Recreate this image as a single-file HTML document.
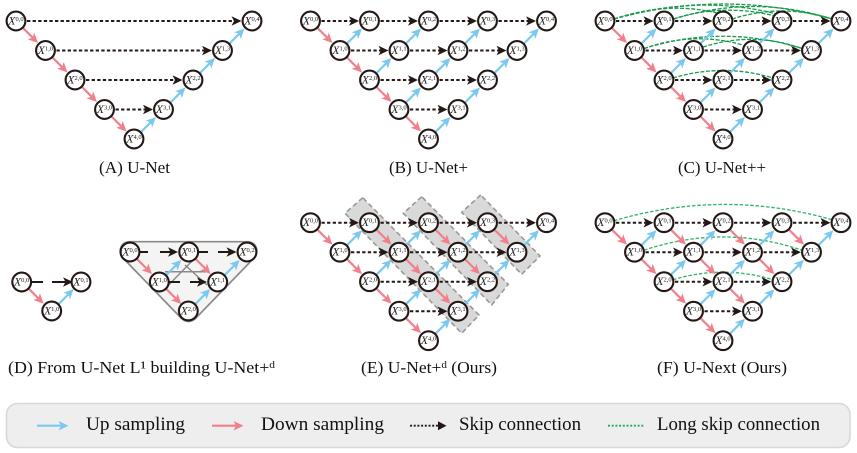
<!DOCTYPE html>
<html><head><meta charset="utf-8">
<style>
html,body{margin:0;padding:0;background:#fff}
svg{display:block;filter:blur(0.25px)}
.n circle{fill:#fff;stroke:#231815;stroke-width:2.1;r:9.4px}
.n text{font-family:"Liberation Serif",serif;font-size:11.5px;fill:#222;text-anchor:middle;font-style:italic}
.n tspan{font-size:6.5px;font-style:normal}
.cap{font-family:"Liberation Serif",serif;font-size:16.5px;fill:#111}
.leg{font-family:"Liberation Serif",serif;font-size:18.5px;fill:#111}
.dn{stroke:#f0808c;stroke-width:2.2;fill:none}
.up{stroke:#7cc9f0;stroke-width:2.2;fill:none}
.sk{stroke:#231815;stroke-width:2;fill:none;stroke-dasharray:3.3 2.3}
.gr{stroke:#1a9a4b;stroke-width:1.3;fill:none;stroke-dasharray:4 1.6}
.gl{stroke:#2fb563;stroke-width:1.3;fill:none;stroke-dasharray:3.5 1.8}
.bd{fill:#d9d9d9;stroke:#999;stroke-width:1.6;stroke-dasharray:5 3}
</style></head><body>
<svg width="857" height="453" viewBox="0 0 857 453" xmlns="http://www.w3.org/2000/svg">
<defs>
<marker id="mp" markerUnits="userSpaceOnUse" markerWidth="12" markerHeight="12" refX="7.5" refY="4.75" orient="auto"><path d="M10,4.75L0,0L2.5,4.75L0,9.5Z" fill="#f0808c"/></marker>
<marker id="mb" markerUnits="userSpaceOnUse" markerWidth="12" markerHeight="12" refX="7.5" refY="4.75" orient="auto"><path d="M10,4.75L0,0L2.5,4.75L0,9.5Z" fill="#7cc9f0"/></marker>
<marker id="mk" markerUnits="userSpaceOnUse" markerWidth="12" markerHeight="12" refX="7.5" refY="4.75" orient="auto"><path d="M10,4.75L0,0L2.5,4.75L0,9.5Z" fill="#231815"/></marker>
<path id="D" class="dn" d="M7,7L20.2,20.2" marker-end="url(#mp)"/>
<path id="U" class="up" d="M7,-7L20.2,-20.2" marker-end="url(#mb)"/>
<path id="S" class="sk" d="M11,0H46" marker-end="url(#mk)"/>
</defs>

<!-- Panel A -->
<g transform="translate(16,21)">
<path class="sk" d="M11,0H223" marker-end="url(#mk)"/>
<path class="sk" d="M40.5,29.5H193.5" marker-end="url(#mk)"/>
<path class="sk" d="M70,59H164" marker-end="url(#mk)"/>
<path class="sk" d="M99.5,88.5H134.5" marker-end="url(#mk)"/>
<use href="#D" x="0" y="0"/><use href="#D" x="29.5" y="29.5"/><use href="#D" x="59" y="59"/><use href="#D" x="88.5" y="88.5"/>
<use href="#U" x="118" y="118"/><use href="#U" x="147.5" y="88.5"/><use href="#U" x="177" y="59"/><use href="#U" x="206.5" y="29.5"/>
<g class="n" transform="translate(0,0)"><circle r="9.4"/><text y="3.5">X<tspan dy="-3.5">0,0</tspan></text></g>
<g class="n" transform="translate(29.5,29.5)"><circle r="9.4"/><text y="3.5">X<tspan dy="-3.5">1,0</tspan></text></g>
<g class="n" transform="translate(59,59)"><circle r="9.4"/><text y="3.5">X<tspan dy="-3.5">2,0</tspan></text></g>
<g class="n" transform="translate(88.5,88.5)"><circle r="9.4"/><text y="3.5">X<tspan dy="-3.5">3,0</tspan></text></g>
<g class="n" transform="translate(118,118)"><circle r="9.4"/><text y="3.5">X<tspan dy="-3.5">4,0</tspan></text></g>
<g class="n" transform="translate(147.5,88.5)"><circle r="9.4"/><text y="3.5">X<tspan dy="-3.5">3,1</tspan></text></g>
<g class="n" transform="translate(177,59)"><circle r="9.4"/><text y="3.5">X<tspan dy="-3.5">2,2</tspan></text></g>
<g class="n" transform="translate(206.5,29.5)"><circle r="9.4"/><text y="3.5">X<tspan dy="-3.5">1,3</tspan></text></g>
<g class="n" transform="translate(236,0)"><circle r="9.4"/><text y="3.5">X<tspan dy="-3.5">0,4</tspan></text></g>
</g>
<text class="cap" x="99" y="173" textLength="71" lengthAdjust="spacingAndGlyphs">(A) U-Net</text>

<!-- Panel B -->
<g transform="translate(310.5,21)">
<use href="#S" x="0" y="0"/><use href="#S" x="59" y="0"/><use href="#S" x="118" y="0"/><use href="#S" x="177" y="0"/>
<use href="#S" x="29.5" y="29.5"/><use href="#S" x="88.5" y="29.5"/><use href="#S" x="147.5" y="29.5"/>
<use href="#S" x="59" y="59"/><use href="#S" x="118" y="59"/><use href="#S" x="88.5" y="88.5"/>
<use href="#D" x="0" y="0"/><use href="#D" x="29.5" y="29.5"/><use href="#D" x="59" y="59"/><use href="#D" x="88.5" y="88.5"/>
<use href="#U" x="118" y="118"/><use href="#U" x="147.5" y="88.5"/><use href="#U" x="177" y="59"/><use href="#U" x="206.5" y="29.5"/>
<use href="#U" x="88.5" y="88.5"/><use href="#U" x="118" y="59"/><use href="#U" x="147.5" y="29.5"/>
<use href="#U" x="59" y="59"/><use href="#U" x="88.5" y="29.5"/><use href="#U" x="29.5" y="29.5"/>
<g class="n" transform="translate(0,0)"><circle r="9.4"/><text y="3.5">X<tspan dy="-3.5">0,0</tspan></text></g>
<g class="n" transform="translate(59,0)"><circle r="9.4"/><text y="3.5">X<tspan dy="-3.5">0,1</tspan></text></g>
<g class="n" transform="translate(118,0)"><circle r="9.4"/><text y="3.5">X<tspan dy="-3.5">0,2</tspan></text></g>
<g class="n" transform="translate(177,0)"><circle r="9.4"/><text y="3.5">X<tspan dy="-3.5">0,3</tspan></text></g>
<g class="n" transform="translate(236,0)"><circle r="9.4"/><text y="3.5">X<tspan dy="-3.5">0,4</tspan></text></g>
<g class="n" transform="translate(29.5,29.5)"><circle r="9.4"/><text y="3.5">X<tspan dy="-3.5">1,0</tspan></text></g>
<g class="n" transform="translate(88.5,29.5)"><circle r="9.4"/><text y="3.5">X<tspan dy="-3.5">1,1</tspan></text></g>
<g class="n" transform="translate(147.5,29.5)"><circle r="9.4"/><text y="3.5">X<tspan dy="-3.5">1,2</tspan></text></g>
<g class="n" transform="translate(206.5,29.5)"><circle r="9.4"/><text y="3.5">X<tspan dy="-3.5">1,3</tspan></text></g>
<g class="n" transform="translate(59,59)"><circle r="9.4"/><text y="3.5">X<tspan dy="-3.5">2,0</tspan></text></g>
<g class="n" transform="translate(118,59)"><circle r="9.4"/><text y="3.5">X<tspan dy="-3.5">2,1</tspan></text></g>
<g class="n" transform="translate(177,59)"><circle r="9.4"/><text y="3.5">X<tspan dy="-3.5">2,2</tspan></text></g>
<g class="n" transform="translate(88.5,88.5)"><circle r="9.4"/><text y="3.5">X<tspan dy="-3.5">3,0</tspan></text></g>
<g class="n" transform="translate(147.5,88.5)"><circle r="9.4"/><text y="3.5">X<tspan dy="-3.5">3,1</tspan></text></g>
<g class="n" transform="translate(118,118)"><circle r="9.4"/><text y="3.5">X<tspan dy="-3.5">4,0</tspan></text></g>
</g>
<text class="cap" x="389" y="173" textLength="79" lengthAdjust="spacingAndGlyphs">(B) U-Net+</text>

<!-- Panel C -->
<g transform="translate(605,21)">
<path class="gr" d="M9,-2Q118,-32 227,-2"/>
<path class="gr" d="M9,-2Q93,-27 172,-7"/>
<path class="gr" d="M9,-2Q63,-20 112,-8"/>
<path class="gr" d="M69,-2Q148,-27 227,-2"/>
<path class="gr" d="M68,-2Q118,-18 170,-5"/>
<path class="gr" d="M127,-2Q177,-18 227,-2"/>
<path class="gr" d="M39,27.5Q118,3 197,27.5"/>
<path class="gr" d="M39,27.5Q88,10 138,24"/>
<path class="gr" d="M98,26Q148,10 197,27.5"/>
<path class="gr" d="M68,57Q118,42 168,57"/>
<use href="#S" x="0" y="0"/><use href="#S" x="59" y="0"/><use href="#S" x="118" y="0"/><use href="#S" x="177" y="0"/>
<use href="#S" x="29.5" y="29.5"/><use href="#S" x="88.5" y="29.5"/><use href="#S" x="147.5" y="29.5"/>
<use href="#S" x="59" y="59"/><use href="#S" x="118" y="59"/><use href="#S" x="88.5" y="88.5"/>
<use href="#D" x="0" y="0"/><use href="#D" x="29.5" y="29.5"/><use href="#D" x="59" y="59"/><use href="#D" x="88.5" y="88.5"/>
<use href="#U" x="118" y="118"/><use href="#U" x="147.5" y="88.5"/><use href="#U" x="177" y="59"/><use href="#U" x="206.5" y="29.5"/>
<use href="#U" x="88.5" y="88.5"/><use href="#U" x="118" y="59"/><use href="#U" x="147.5" y="29.5"/>
<use href="#U" x="59" y="59"/><use href="#U" x="88.5" y="29.5"/><use href="#U" x="29.5" y="29.5"/>
<g class="n" transform="translate(0,0)"><circle r="9.4"/><text y="3.5">X<tspan dy="-3.5">0,0</tspan></text></g>
<g class="n" transform="translate(59,0)"><circle r="9.4"/><text y="3.5">X<tspan dy="-3.5">0,1</tspan></text></g>
<g class="n" transform="translate(118,0)"><circle r="9.4"/><text y="3.5">X<tspan dy="-3.5">0,2</tspan></text></g>
<g class="n" transform="translate(177,0)"><circle r="9.4"/><text y="3.5">X<tspan dy="-3.5">0,3</tspan></text></g>
<g class="n" transform="translate(236,0)"><circle r="9.4"/><text y="3.5">X<tspan dy="-3.5">0,4</tspan></text></g>
<g class="n" transform="translate(29.5,29.5)"><circle r="9.4"/><text y="3.5">X<tspan dy="-3.5">1,0</tspan></text></g>
<g class="n" transform="translate(88.5,29.5)"><circle r="9.4"/><text y="3.5">X<tspan dy="-3.5">1,1</tspan></text></g>
<g class="n" transform="translate(147.5,29.5)"><circle r="9.4"/><text y="3.5">X<tspan dy="-3.5">1,2</tspan></text></g>
<g class="n" transform="translate(206.5,29.5)"><circle r="9.4"/><text y="3.5">X<tspan dy="-3.5">1,3</tspan></text></g>
<g class="n" transform="translate(59,59)"><circle r="9.4"/><text y="3.5">X<tspan dy="-3.5">2,0</tspan></text></g>
<g class="n" transform="translate(118,59)"><circle r="9.4"/><text y="3.5">X<tspan dy="-3.5">2,1</tspan></text></g>
<g class="n" transform="translate(177,59)"><circle r="9.4"/><text y="3.5">X<tspan dy="-3.5">2,2</tspan></text></g>
<g class="n" transform="translate(88.5,88.5)"><circle r="9.4"/><text y="3.5">X<tspan dy="-3.5">3,0</tspan></text></g>
<g class="n" transform="translate(147.5,88.5)"><circle r="9.4"/><text y="3.5">X<tspan dy="-3.5">3,1</tspan></text></g>
<g class="n" transform="translate(118,118)"><circle r="9.4"/><text y="3.5">X<tspan dy="-3.5">4,0</tspan></text></g>
</g>
<text class="cap" x="678" y="173" textLength="88" lengthAdjust="spacingAndGlyphs">(C) U-Net++</text>

<!-- Panel D left -->
<g>
<path d="M32,282H43M52,282H70.5" stroke="#231815" stroke-width="2.1" fill="none" marker-end="url(#mk)"/>
<use href="#D" x="21.7" y="281.7"/>
<use href="#U" x="51.7" y="311"/>
<g class="n" transform="translate(21.7,282)"><circle r="9.4"/><text y="3.5">X<tspan dy="-3.5">0,0</tspan></text></g>
<g class="n" transform="translate(81,282)"><circle r="9.4"/><text y="3.5">X<tspan dy="-3.5">0,1</tspan></text></g>
<g class="n" transform="translate(51.7,311)"><circle r="9.4"/><text y="3.5">X<tspan dy="-3.5">1,0</tspan></text></g>
</g>
<!-- Panel D right -->
<g>
<path d="M130,241.7H247C256,241.7 259,250 255,257L195,319Q188.5,324 182,319L122,257C118,250 121,241.7 130,241.7Z" fill="#f4f4f4" stroke="#8a8a8a" stroke-width="1.7"/>
<path d="M165,271.7H207M165.7,288L195,258M185,265L207,285" stroke="#8a8a8a" stroke-width="1.5" fill="none"/>
<path d="M140,252H148M160,252H175.5" stroke="#231815" stroke-width="2.1" fill="none" marker-end="url(#mk)"/>
<path d="M199,252H208M218,252H234" stroke="#231815" stroke-width="2.1" fill="none" marker-end="url(#mk)"/>
<path d="M169,282H180M190,282H204.5" stroke="#231815" stroke-width="2.1" fill="none" marker-end="url(#mk)"/>
<use href="#D" x="130" y="252"/><use href="#D" x="159.3" y="282"/><use href="#D" x="188.7" y="252"/>
<use href="#U" x="159.3" y="282"/><use href="#U" x="188.3" y="311"/><use href="#U" x="217.7" y="282"/>
<g class="n" transform="translate(130,252)"><circle r="9.4"/><text y="3.5">X<tspan dy="-3.5">0,0</tspan></text></g>
<g class="n" transform="translate(188.7,252)"><circle r="9.4"/><text y="3.5">X<tspan dy="-3.5">0,1</tspan></text></g>
<g class="n" transform="translate(247,252)"><circle r="9.4"/><text y="3.5">X<tspan dy="-3.5">0,2</tspan></text></g>
<g class="n" transform="translate(159.3,282)"><circle r="9.4"/><text y="3.5">X<tspan dy="-3.5">1,0</tspan></text></g>
<g class="n" transform="translate(217.7,282)"><circle r="9.4"/><text y="3.5">X<tspan dy="-3.5">1,1</tspan></text></g>
<g class="n" transform="translate(188.3,311)"><circle r="9.4"/><text y="3.5">X<tspan dy="-3.5">2,0</tspan></text></g>
</g>
<text class="cap" x="8" y="373" textLength="267" lengthAdjust="spacingAndGlyphs">(D) From U-Net L¹ building U-Net+<tspan dy="-5" font-size="10.5">d</tspan></text>

<!-- Panel E -->
<path class="bd" d="M362.7,197.7L345,213.3L461.7,333.3L479,315Z"/>
<path class="bd" d="M421.7,196.7L403.3,213.3L491.7,305L508.3,284.3Z"/>
<path class="bd" d="M480.7,195L461.7,212.3L521.7,274.3L540,256Z"/>
<g transform="translate(310.5,222.7)">
<use href="#S" x="0" y="0"/><use href="#S" x="59" y="0"/><use href="#S" x="118" y="0"/><use href="#S" x="177" y="0"/>
<use href="#S" x="29.5" y="29.5"/><use href="#S" x="88.5" y="29.5"/><use href="#S" x="147.5" y="29.5"/>
<use href="#S" x="59" y="59"/><use href="#S" x="118" y="59"/><use href="#S" x="88.5" y="88.5"/>
<use href="#D" x="0" y="0"/><use href="#D" x="29.5" y="29.5"/><use href="#D" x="59" y="59"/><use href="#D" x="88.5" y="88.5"/>
<use href="#D" x="59" y="0"/><use href="#D" x="118" y="0"/><use href="#D" x="177" y="0"/><use href="#D" x="88.5" y="29.5"/><use href="#D" x="147.5" y="29.5"/><use href="#D" x="118" y="59"/>
<use href="#U" x="118" y="118"/><use href="#U" x="147.5" y="88.5"/><use href="#U" x="177" y="59"/><use href="#U" x="206.5" y="29.5"/>
<use href="#U" x="88.5" y="88.5"/><use href="#U" x="118" y="59"/><use href="#U" x="147.5" y="29.5"/>
<use href="#U" x="59" y="59"/><use href="#U" x="88.5" y="29.5"/><use href="#U" x="29.5" y="29.5"/>
<g class="n" transform="translate(0,0)"><circle r="9.4"/><text y="3.5">X<tspan dy="-3.5">0,0</tspan></text></g>
<g class="n" transform="translate(59,0)"><circle r="9.4"/><text y="3.5">X<tspan dy="-3.5">0,1</tspan></text></g>
<g class="n" transform="translate(118,0)"><circle r="9.4"/><text y="3.5">X<tspan dy="-3.5">0,2</tspan></text></g>
<g class="n" transform="translate(177,0)"><circle r="9.4"/><text y="3.5">X<tspan dy="-3.5">0,3</tspan></text></g>
<g class="n" transform="translate(236,0)"><circle r="9.4"/><text y="3.5">X<tspan dy="-3.5">0,4</tspan></text></g>
<g class="n" transform="translate(29.5,29.5)"><circle r="9.4"/><text y="3.5">X<tspan dy="-3.5">1,0</tspan></text></g>
<g class="n" transform="translate(88.5,29.5)"><circle r="9.4"/><text y="3.5">X<tspan dy="-3.5">1,1</tspan></text></g>
<g class="n" transform="translate(147.5,29.5)"><circle r="9.4"/><text y="3.5">X<tspan dy="-3.5">1,2</tspan></text></g>
<g class="n" transform="translate(206.5,29.5)"><circle r="9.4"/><text y="3.5">X<tspan dy="-3.5">1,3</tspan></text></g>
<g class="n" transform="translate(59,59)"><circle r="9.4"/><text y="3.5">X<tspan dy="-3.5">2,0</tspan></text></g>
<g class="n" transform="translate(118,59)"><circle r="9.4"/><text y="3.5">X<tspan dy="-3.5">2,1</tspan></text></g>
<g class="n" transform="translate(177,59)"><circle r="9.4"/><text y="3.5">X<tspan dy="-3.5">2,2</tspan></text></g>
<g class="n" transform="translate(88.5,88.5)"><circle r="9.4"/><text y="3.5">X<tspan dy="-3.5">3,0</tspan></text></g>
<g class="n" transform="translate(147.5,88.5)"><circle r="9.4"/><text y="3.5">X<tspan dy="-3.5">3,1</tspan></text></g>
<g class="n" transform="translate(118,118)"><circle r="9.4"/><text y="3.5">X<tspan dy="-3.5">4,0</tspan></text></g>
</g>
<text class="cap" x="361" y="373" textLength="136" lengthAdjust="spacingAndGlyphs">(E) U-Net+<tspan dy="-5" font-size="10.5">d</tspan><tspan dy="5"> (Ours)</tspan></text>

<!-- Panel F -->
<g transform="translate(605,222.7)">
<path class="gl" d="M9,-2Q118,-34 227,-3"/>
<path class="gl" d="M39,27.5Q118,1 197,27.5"/>
<path class="gl" d="M68,57Q118,42 168,57"/>
<use href="#S" x="0" y="0"/><use href="#S" x="59" y="0"/><use href="#S" x="118" y="0"/><use href="#S" x="177" y="0"/>
<use href="#S" x="29.5" y="29.5"/><use href="#S" x="88.5" y="29.5"/><use href="#S" x="147.5" y="29.5"/>
<use href="#S" x="59" y="59"/><use href="#S" x="118" y="59"/><use href="#S" x="88.5" y="88.5"/>
<use href="#D" x="0" y="0"/><use href="#D" x="29.5" y="29.5"/><use href="#D" x="59" y="59"/><use href="#D" x="88.5" y="88.5"/>
<use href="#D" x="59" y="0"/><use href="#D" x="118" y="0"/><use href="#D" x="177" y="0"/><use href="#D" x="88.5" y="29.5"/><use href="#D" x="147.5" y="29.5"/><use href="#D" x="118" y="59"/>
<use href="#U" x="118" y="118"/><use href="#U" x="147.5" y="88.5"/><use href="#U" x="177" y="59"/><use href="#U" x="206.5" y="29.5"/>
<use href="#U" x="88.5" y="88.5"/><use href="#U" x="118" y="59"/><use href="#U" x="147.5" y="29.5"/>
<use href="#U" x="59" y="59"/><use href="#U" x="88.5" y="29.5"/><use href="#U" x="29.5" y="29.5"/>
<g class="n" transform="translate(0,0)"><circle r="9.4"/><text y="3.5">X<tspan dy="-3.5">0,0</tspan></text></g>
<g class="n" transform="translate(59,0)"><circle r="9.4"/><text y="3.5">X<tspan dy="-3.5">0,1</tspan></text></g>
<g class="n" transform="translate(118,0)"><circle r="9.4"/><text y="3.5">X<tspan dy="-3.5">0,2</tspan></text></g>
<g class="n" transform="translate(177,0)"><circle r="9.4"/><text y="3.5">X<tspan dy="-3.5">0,3</tspan></text></g>
<g class="n" transform="translate(236,0)"><circle r="9.4"/><text y="3.5">X<tspan dy="-3.5">0,4</tspan></text></g>
<g class="n" transform="translate(29.5,29.5)"><circle r="9.4"/><text y="3.5">X<tspan dy="-3.5">1,0</tspan></text></g>
<g class="n" transform="translate(88.5,29.5)"><circle r="9.4"/><text y="3.5">X<tspan dy="-3.5">1,1</tspan></text></g>
<g class="n" transform="translate(147.5,29.5)"><circle r="9.4"/><text y="3.5">X<tspan dy="-3.5">1,2</tspan></text></g>
<g class="n" transform="translate(206.5,29.5)"><circle r="9.4"/><text y="3.5">X<tspan dy="-3.5">1,3</tspan></text></g>
<g class="n" transform="translate(59,59)"><circle r="9.4"/><text y="3.5">X<tspan dy="-3.5">2,0</tspan></text></g>
<g class="n" transform="translate(118,59)"><circle r="9.4"/><text y="3.5">X<tspan dy="-3.5">2,1</tspan></text></g>
<g class="n" transform="translate(177,59)"><circle r="9.4"/><text y="3.5">X<tspan dy="-3.5">2,2</tspan></text></g>
<g class="n" transform="translate(88.5,88.5)"><circle r="9.4"/><text y="3.5">X<tspan dy="-3.5">3,0</tspan></text></g>
<g class="n" transform="translate(147.5,88.5)"><circle r="9.4"/><text y="3.5">X<tspan dy="-3.5">3,1</tspan></text></g>
<g class="n" transform="translate(118,118)"><circle r="9.4"/><text y="3.5">X<tspan dy="-3.5">4,0</tspan></text></g>
</g>
<text class="cap" x="657" y="373" textLength="130" lengthAdjust="spacingAndGlyphs">(F) U-Next (Ours)</text>

<!-- Legend -->
<rect x="6.5" y="403.5" width="843.5" height="44" rx="11" ry="11" fill="#eeeeee" stroke="#d8d8d8" stroke-width="1.6"/>
<path class="up" d="M37,425.7H66" marker-end="url(#mb)"/>
<path class="dn" d="M212,425.7H241" marker-end="url(#mp)"/>
<path d="M410,425.7H439" stroke="#231815" stroke-width="1.8" stroke-dasharray="2 1.7" fill="none"/>
<path d="M438,421.2L446.5,425.7L438,430.2Z" fill="#231815"/>
<path d="M608,425.7H644" stroke="#1fae5a" stroke-width="1.9" stroke-dasharray="2 1.7" fill="none"/>
<text class="leg" x="86" y="430" textLength="99" lengthAdjust="spacingAndGlyphs">Up sampling</text>
<text class="leg" x="261" y="430" textLength="123" lengthAdjust="spacingAndGlyphs">Down sampling</text>
<text class="leg" x="459" y="430" textLength="122" lengthAdjust="spacingAndGlyphs">Skip connection</text>
<text class="leg" x="657" y="430" textLength="163" lengthAdjust="spacingAndGlyphs">Long skip connection</text>
</svg>
</body></html>
